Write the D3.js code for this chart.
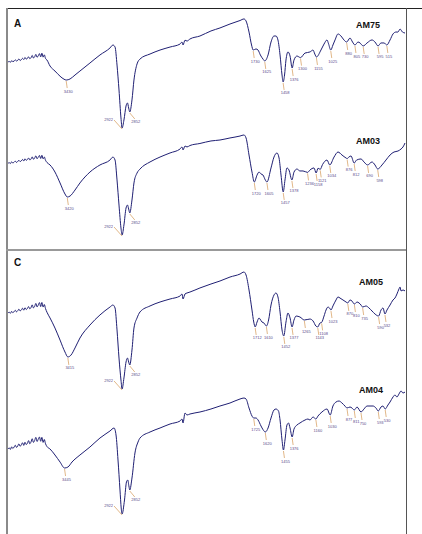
<!DOCTYPE html>
<html><head><meta charset="utf-8">
<script src="https://cdn.jsdelivr.net/npm/d3@7"></script>
<style>html,body{margin:0;padding:0;background:#fff;}svg{display:block;}</style>
</head><body>
<svg id="c" width="422" height="534"></svg>
<script>
// ---- data: [wavenumber cm-1, relative transmittance %] ----
const am75 = [[3959,60.8],[3948,61.3],[3937,60.6],[3926,61.9],[3915,61.2],[3904,61.5],[3893,62.6],[3882,61.7],[3871,62.2],[3860,63.4],[3849,62.1],[3838,62.8],[3827,63.9],[3816,62.9],[3805,64.6],[3794,63.3],[3783,63.8],[3772,65.2],[3761,63.6],[3750,64.4],[3739,66.3],[3728,64.2],[3717,65.1],[3706,67.2],[3695,64.8],[3684,66],[3673,67.8],[3662,65.1],[3651,68.2],[3640,64.9],[3629,66.8],[3618,63.8],[3605,62.5],[3577,57.5],[3532,53.3],[3486,49],[3450,46.5],[3430,45.8],[3395,46.7],[3350,50],[3305,53.3],[3214,60],[3123,66.7],[3032,72.5],[3005,75],[2986,73.3],[2968,58.3],[2950,37.5],[2932,14.2],[2922,5.8],[2905,12.5],[2886,24.2],[2873,26.7],[2862,22.5],[2852,19.2],[2832,29.2],[2814,45.8],[2786,59.2],[2759,63.3],[2668,67.5],[2577,70.8],[2486,73.3],[2395,75.8],[2377,77.5],[2368,75],[2350,79],[2332,78.3],[2305,80],[2214,82.5],[2114,86.7],[2032,89.2],[1941,92.5],[1850,95.4],[1814,96.7],[1795,95],[1768,85.8],[1745,75],[1730,70.8],[1705,71.7],[1686,70.8],[1665,66.7],[1641,63.3],[1625,61.7],[1595,66.7],[1568,77.5],[1541,82.5],[1523,82.5],[1505,79.2],[1486,66.7],[1468,50],[1458,44.2],[1445,50],[1432,62.5],[1414,69.2],[1395,65.8],[1376,55.8],[1359,62.5],[1332,65.8],[1300,64.5],[1259,68.3],[1214,69.2],[1186,70.8],[1170,67.5],[1155,65],[1114,70.8],[1086,75.8],[1059,79.2],[1045,76],[1025,70.8],[1005,75],[986,79.2],[959,84.2],[932,82.5],[905,79.2],[880,77.5],[850,80.8],[827,77.5],[805,75],[777,77.5],[759,76.7],[730,74.2],[695,76.7],[650,79.2],[623,77.5],[595,74.2],[568,76.7],[541,76.7],[515,75],[486,79.2],[459,84.2],[432,85.8],[414,85.8],[395,88.3],[373,85.8],[350,85]];
const am75Peaks = [3430,2922,2852,1730,1625,1458,1376,1300,1155,1025,880,805,730,595,515];

const am03 = [[3959,68],[3948,68.6],[3937,67.9],[3926,69.3],[3915,68.4],[3904,69],[3893,69.9],[3882,68.8],[3871,69.6],[3860,70.6],[3849,69.5],[3838,70.2],[3827,71.3],[3816,70],[3805,71.8],[3794,70.6],[3783,71.2],[3772,72.5],[3761,70.9],[3750,71.6],[3739,73.4],[3728,71.5],[3717,72.4],[3706,74.3],[3695,71.9],[3684,73.2],[3673,74.6],[3662,72.1],[3651,74.8],[3640,71.8],[3629,73.3],[3618,70.6],[3605,68.8],[3577,66.7],[3532,60.8],[3486,51.7],[3441,42.5],[3420,40],[3395,40.8],[3350,45.8],[3305,51.7],[3214,60.8],[3123,66.7],[3032,70.8],[3005,73.3],[2986,70.8],[2968,54.2],[2950,33.3],[2932,14.2],[2922,8.3],[2905,16.7],[2886,30.8],[2873,33.3],[2862,30],[2852,26.7],[2832,37.5],[2814,51.7],[2786,60],[2759,63.3],[2668,69.2],[2577,73.3],[2486,76.7],[2395,80],[2377,81.7],[2368,79.2],[2350,82.5],[2332,81.7],[2305,82.9],[2214,84.6],[2114,86.7],[2032,87.5],[1941,89.2],[1850,90.8],[1814,91.7],[1795,89.2],[1768,75],[1741,60.8],[1720,52.5],[1695,58.3],[1677,60.8],[1659,59.2],[1641,58.3],[1620,54.2],[1605,52.5],[1568,64.2],[1541,73.3],[1514,76.7],[1495,72.5],[1477,58.3],[1457,44.2],[1441,54.2],[1423,64.2],[1405,62.5],[1378,54.2],[1359,60.8],[1332,63.3],[1305,61.7],[1277,61.7],[1236,60.5],[1214,62.5],[1177,64.2],[1158,60],[1140,64],[1121,63],[1100,67],[1059,70.8],[1034,66.7],[995,73.3],[959,77.5],[923,75],[886,72.5],[876,72],[860,73.3],[841,74.2],[812,68.3],[790,70.8],[750,71.7],[723,69.2],[690,66.7],[650,69.2],[623,66.7],[598,63.3],[559,66.7],[523,70.8],[486,75],[450,77.5],[414,78.3],[386,80],[368,81.7],[350,85]];
const am03Peaks = [3420,2922,2852,1720,1605,1457,1378,1236,1158,1121,1034,876,812,690,598];

const am05 = [[3959,65.8],[3948,66.5],[3937,65.6],[3926,67.2],[3915,66.1],[3904,67],[3893,68.1],[3882,66.8],[3871,67.7],[3860,69],[3849,67.6],[3838,68.4],[3827,69.8],[3816,68.2],[3805,70.2],[3794,68.8],[3783,69.5],[3772,71.2],[3761,69.3],[3750,70.4],[3739,72.6],[3728,70.1],[3717,71.3],[3706,73.8],[3695,70.9],[3684,72.5],[3673,74.5],[3662,71.2],[3651,74.6],[3640,70.8],[3629,72.9],[3618,69.5],[3605,66.5],[3577,61.7],[3532,53.3],[3486,43.3],[3441,33.3],[3415,29.2],[3386,30.8],[3350,36.7],[3305,45],[3214,55.8],[3123,64.2],[3032,70.8],[3005,72.5],[2986,70],[2968,51.7],[2950,28.3],[2932,10],[2922,2.5],[2905,11.7],[2886,25],[2873,28.3],[2862,25],[2852,22.5],[2832,35],[2814,53.3],[2786,61.7],[2759,66.7],[2668,71.7],[2577,75],[2486,77.5],[2395,80],[2377,81.7],[2368,77.5],[2350,81.7],[2332,82.5],[2305,83.3],[2214,86.7],[2114,90],[2032,92.5],[1941,95.8],[1850,98.3],[1814,100],[1795,97.5],[1768,85],[1741,68.3],[1725,58.3],[1712,54.2],[1695,58.3],[1677,61.7],[1668,60.8],[1650,58.3],[1632,57.5],[1610,55],[1590,60],[1568,72.5],[1541,80.8],[1523,82.5],[1505,79.2],[1486,66.7],[1468,51.7],[1452,46.7],[1432,58.3],[1414,65.8],[1395,61.7],[1377,54.2],[1359,60],[1340,63.3],[1305,62.5],[1265,60],[1214,60.8],[1186,59.2],[1160,55],[1143,54.2],[1123,57.5],[1108,58],[1086,63.3],[1068,68.3],[1050,70.8],[1036,70],[1023,68.3],[1005,71.7],[977,76.7],[959,79.2],[941,78.3],[914,76.7],[886,75],[870,74.2],[850,76.7],[832,75.8],[810,73.3],[786,75],[768,74.2],[750,72.5],[735,70.8],[705,71.7],[677,70],[650,67.5],[623,65],[590,63.3],[568,68.3],[550,70],[532,65],[514,68.3],[486,72.5],[459,76.7],[441,78.3],[423,81.7],[405,85.8],[395,87.5],[386,84.2],[368,85],[350,84.2]];
const am05Peaks = [3415,2922,2852,1712,1610,1452,1377,1265,1143,1108,1023,870,810,735,590,532];

const am04 = [[3959,53.6],[3948,54.5],[3937,53.3],[3926,55.3],[3915,54],[3904,55.1],[3893,56.6],[3882,54.9],[3871,56],[3860,57.7],[3849,55.8],[3838,57],[3827,58.6],[3816,56.5],[3805,59],[3794,57.2],[3783,58.1],[3772,60.3],[3761,57.8],[3750,59.2],[3739,61.8],[3728,58.9],[3717,60.4],[3706,62.9],[3695,59.6],[3684,61.5],[3673,63.2],[3662,59.8],[3651,62.9],[3640,58.9],[3629,61.2],[3618,57.8],[3605,55.6],[3577,53.6],[3532,48.8],[3486,43.2],[3445,38.4],[3414,39.2],[3377,43.2],[3305,48.8],[3214,55.2],[3123,62.4],[3032,68],[2995,70.4],[2977,64.8],[2959,44.8],[2941,20.8],[2930,6.4],[2922,1.6],[2900,12.8],[2882,27.2],[2870,28.8],[2860,24],[2852,20.8],[2832,30.4],[2805,50.4],[2777,59.2],[2759,62.4],[2668,67.2],[2577,70.4],[2486,73.6],[2395,76],[2377,77.6],[2368,74.4],[2350,82.4],[2332,80.8],[2305,81.6],[2214,83.2],[2114,85.6],[2032,88],[1941,90.4],[1850,93.6],[1814,94.4],[1795,93.6],[1768,86.4],[1741,80],[1725,78.4],[1705,78.4],[1686,76.8],[1659,72],[1640,69],[1620,67.2],[1595,70.4],[1568,78.4],[1541,84.8],[1523,85.6],[1500,84],[1486,76.8],[1468,60.8],[1455,52.8],[1441,60.8],[1423,72.8],[1409,74.4],[1395,70.4],[1376,63.2],[1359,69.6],[1332,72.8],[1305,74.4],[1259,76.8],[1232,77.6],[1214,76.8],[1186,79.2],[1160,77.6],[1141,80],[1105,83.2],[1059,85.6],[1030,80.8],[1005,88],[977,91.2],[950,92],[923,90.4],[896,88],[877,86.4],[850,87.2],[832,86.4],[811,84.8],[786,87.2],[750,83.2],[723,85.6],[695,88],[668,88],[641,88],[614,86.4],[593,84],[568,87.2],[550,88],[530,85.6],[505,88.8],[486,91.2],[459,95.2],[441,96.8],[423,95.2],[405,97.6],[386,100],[368,98.4],[350,99.2]];
const am04Peaks = [3445,2922,2852,1725,1620,1455,1376,1160,1030,877,811,750,593,530];

const sampleNames = ["AM75","AM03","AM05","AM04"];
const panelLetters = ["A","C"];

// ---- drawing ----
const svg = d3.select("#c");
const x = d3.scaleLinear().domain([4000, 350]).range([3.5, 405]);

// frame
const frame = svg.append("g");
frame.append("line").attr("x1",6).attr("x2",422).attr("y1",8.5).attr("y2",8.5).attr("stroke","#222").attr("stroke-width",1);
frame.append("line").attr("x1",7).attr("x2",7).attr("y1",8).attr("y2",534).attr("stroke","#8a8a8a").attr("stroke-width",2);
frame.append("line").attr("x1",406.5).attr("x2",406.5).attr("y1",8).attr("y2",534).attr("stroke","#555").attr("stroke-width",1);
frame.append("line").attr("x1",6).attr("x2",406).attr("y1",250).attr("y2",250).attr("stroke","#999").attr("stroke-width",2);

// panel letters
[[panelLetters[0],14,27],[panelLetters[1],14,266]].forEach(([t,px,py])=>{
  svg.append("text").attr("x",px).attr("y",py).text(t)
    .attr("font-family","Liberation Sans, Arial, sans-serif").attr("font-weight","bold").attr("font-size",10).attr("fill","#111");
});

const spectra = [
  {name: sampleNames[0], data: am75, peaks: am75Peaks, bottom: 135, h: 120, nx: 356, ny: 27.5},
  {name: sampleNames[1], data: am03, peaks: am03Peaks, bottom: 245, h: 120, nx: 356, ny: 143.5},
  {name: sampleNames[2], data: am05, peaks: am05Peaks, bottom: 392, h: 120, nx: 359, ny: 284.5},
  {name: sampleNames[3], data: am04, peaks: am04Peaks, bottom: 516, h: 125, nx: 359, ny: 392.5}
];

function interpT(data, wn){
  for(let i=0;i<data.length-1;i++){
    const a=data[i], b=data[i+1];
    if(wn<=a[0] && wn>=b[0]){
      const f=(a[0]-wn)/(a[0]-b[0]);
      return a[1]+(b[1]-a[1])*f;
    }
  }
  return data[data.length-1][1];
}

spectra.forEach(s=>{
  const y = d3.scaleLinear().domain([0,100]).range([s.bottom, s.bottom - s.h]);
  const g = svg.append("g");
  const line = d3.line().x(d=>x(d[0])).y(d=>y(d[1])).curve(d3.curveMonotoneX);
  g.append("path").datum(s.data).attr("d",line)
    .attr("fill","none").attr("stroke","#1f1f73").attr("stroke-width",1).attr("stroke-linejoin","round");

  // peak annotations
  s.peaks.forEach(p=>{
    const px = x(p), py = y(interpT(s.data,p));
    let x2, y2, tx, ty, anchor="middle";
    if(p>2900 && p<2960){ x2=px-8; y2=py-8; tx=x2-1; ty=y2+1; anchor="end"; }
    else if(p>2800 && p<2900){ x2=px+5; y2=py+7; tx=x2+1; ty=y2+4; }
    else { x2=px+1; y2=py+8; tx=x2+1; ty=y2+4.5; }
    g.append("line").attr("x1",px).attr("y1",py+1).attr("x2",x2).attr("y2",y2)
      .attr("stroke","#d9a46a").attr("stroke-width",0.8);
    g.append("text").attr("x",tx).attr("y",ty).attr("text-anchor",anchor).text(p)
      .attr("font-family","Liberation Sans, Arial, sans-serif").attr("font-size",4).attr("fill","#5a4a8c");
  });

  g.append("text").attr("x",s.nx).attr("y",s.ny).text(s.name)
    .attr("font-family","Liberation Sans, Arial, sans-serif").attr("font-weight","bold").attr("font-size",9).attr("fill","#111");
});
</script>
</body></html>
